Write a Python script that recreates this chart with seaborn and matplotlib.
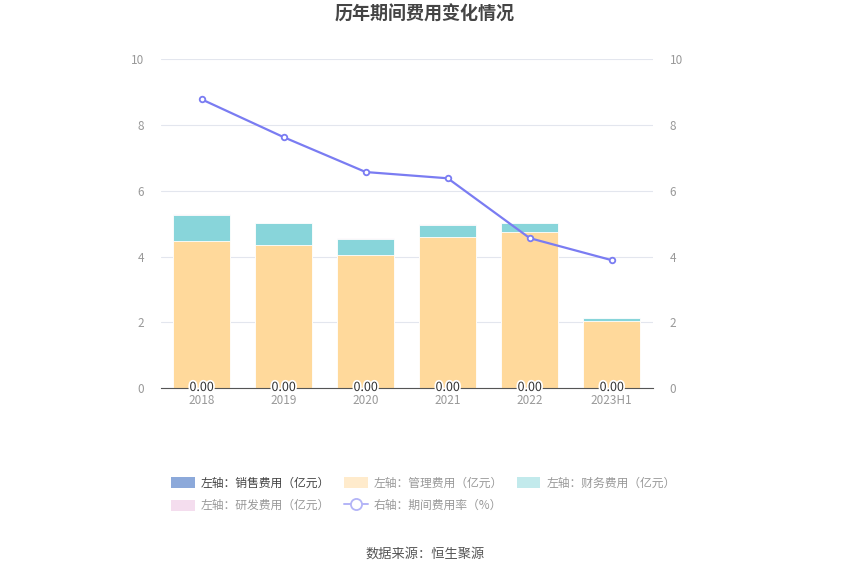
import matplotlib
matplotlib.use("Agg")
import matplotlib.pyplot as plt
import matplotlib.patheffects as pe
from matplotlib.patches import Patch
from matplotlib.lines import Line2D
import seaborn as sns
import numpy as np
import pandas as pd

years = ["2018", "2019", "2020", "2021", "2022", "2023H1"]
sales = [0.0, 0.0, 0.0, 0.0, 0.0, 0.0]
admin = [4.47, 4.35, 4.04, 4.59, 4.74, 2.04]
finance = [0.80, 0.66, 0.50, 0.37, 0.27, 0.08]
rnd = [0.02, 0.02, 0.01, 0.02, 0.01, 0.01]
expense_rate = [8.78, 7.63, 6.57, 6.38, 4.56, 3.89]

c_sales = "#8CA9DA"
c_admin = "#FFD99B"
c_fin = "#88D5DA"
c_rnd = "#F2CFE6"
c_line = "#7A7CF2"

sns.set_theme(style="white")
plt.rcParams["font.family"] = ["Noto Sans CJK SC", "DejaVu Sans"]

df = pd.DataFrame({"year": years, "sales": sales, "admin": admin,
                   "finance": finance, "rnd": rnd})
df["s1"] = df["sales"]
df["s2"] = df["s1"] + df["admin"]
df["s3"] = df["s2"] + df["finance"]
df["s4"] = df["s3"] + df["rnd"]

fig = plt.figure(figsize=(8.5, 5.75), dpi=100)
ax = fig.add_axes([0.189, 0.325, 0.579, 0.572])

# stacked bars drawn as overlapping cumulative totals
for col, color in [("s4", c_rnd), ("s3", c_fin), ("s2", c_admin), ("s1", c_sales)]:
    sns.barplot(data=df, x="year", y=col, color=color, width=0.7,
                saturation=1, edgecolor="white", linewidth=0.6, ax=ax)

ax.set_ylim(0, 10)
ax.set_xlim(-0.5, 5.5)
ax.set_yticks(range(0, 11, 2))
ax.set_xlabel("")
ax.set_ylabel("")
ax.grid(axis="y", color="#E3E6EE", linewidth=0.8)
ax.set_axisbelow(True)
for s in ["top", "right", "left"]:
    ax.spines[s].set_visible(False)
ax.spines["bottom"].set_color("#555555")
ax.spines["bottom"].set_linewidth(0.8)
ax.tick_params(axis="both", colors="#999999", labelsize=8.5, length=0, pad=4)
ax.tick_params(axis="y", pad=12)

for i, v in enumerate(sales):
    ax.text(i, 0.02, f"{v:.2f}", ha="center", va="center", fontsize=9,
            color="#333333", zorder=5,
            path_effects=[pe.withStroke(linewidth=2.5, foreground="white")])

ax2 = ax.twinx()
sns.lineplot(x=np.arange(len(years)), y=expense_rate, color=c_line, linewidth=1.6,
             marker="o", markersize=4, markerfacecolor="white",
             markeredgecolor=c_line, markeredgewidth=1.3, ax=ax2)
ax2.set_ylim(0, 10)
ax2.set_yticks(range(0, 11, 2))
for s in ["top", "right", "left", "bottom"]:
    ax2.spines[s].set_visible(False)
ax2.tick_params(axis="y", colors="#999999", labelsize=8.5, length=0, pad=12)
ax2.grid(False)

fig.text(0.5, 0.975, "历年期间费用变化情况", ha="center", va="center",
         fontsize=13, fontweight="bold", color="#444444")

h_sales = Patch(facecolor=c_sales, edgecolor="none", label="左轴：销售费用（亿元）")
h_admin = Patch(facecolor="#FFEBCC", edgecolor="none", label="左轴：管理费用（亿元）")
h_fin = Patch(facecolor="#C2EAEC", edgecolor="none", label="左轴：财务费用（亿元）")
h_rnd = Patch(facecolor="#F4DDEE", edgecolor="none", label="左轴：研发费用（亿元）")
h_rate = Line2D([], [], color="#B3B4F7", linewidth=1.4, marker="o", markersize=8,
                markerfacecolor="white", markeredgecolor="#B3B4F7",
                markeredgewidth=1.3, label="右轴：期间费用率（%）")
handles = [h_sales, h_rnd, h_admin, h_rate, h_fin]
leg = fig.legend(handles=handles, loc="center", bbox_to_anchor=(0.498, 0.140),
                 ncol=3, frameon=False, fontsize=8.5, handlelength=2.0,
                 handleheight=1.1, handletextpad=0.5, columnspacing=1.2,
                 labelspacing=0.8)
for t in leg.get_texts():
    t.set_color("#999999")
leg.get_texts()[0].set_color("#444444")

fig.text(0.5, 0.036, "数据来源：恒生聚源", ha="center", va="center",
         fontsize=9.5, color="#555555")

fig.savefig("out.png", dpi=100)
